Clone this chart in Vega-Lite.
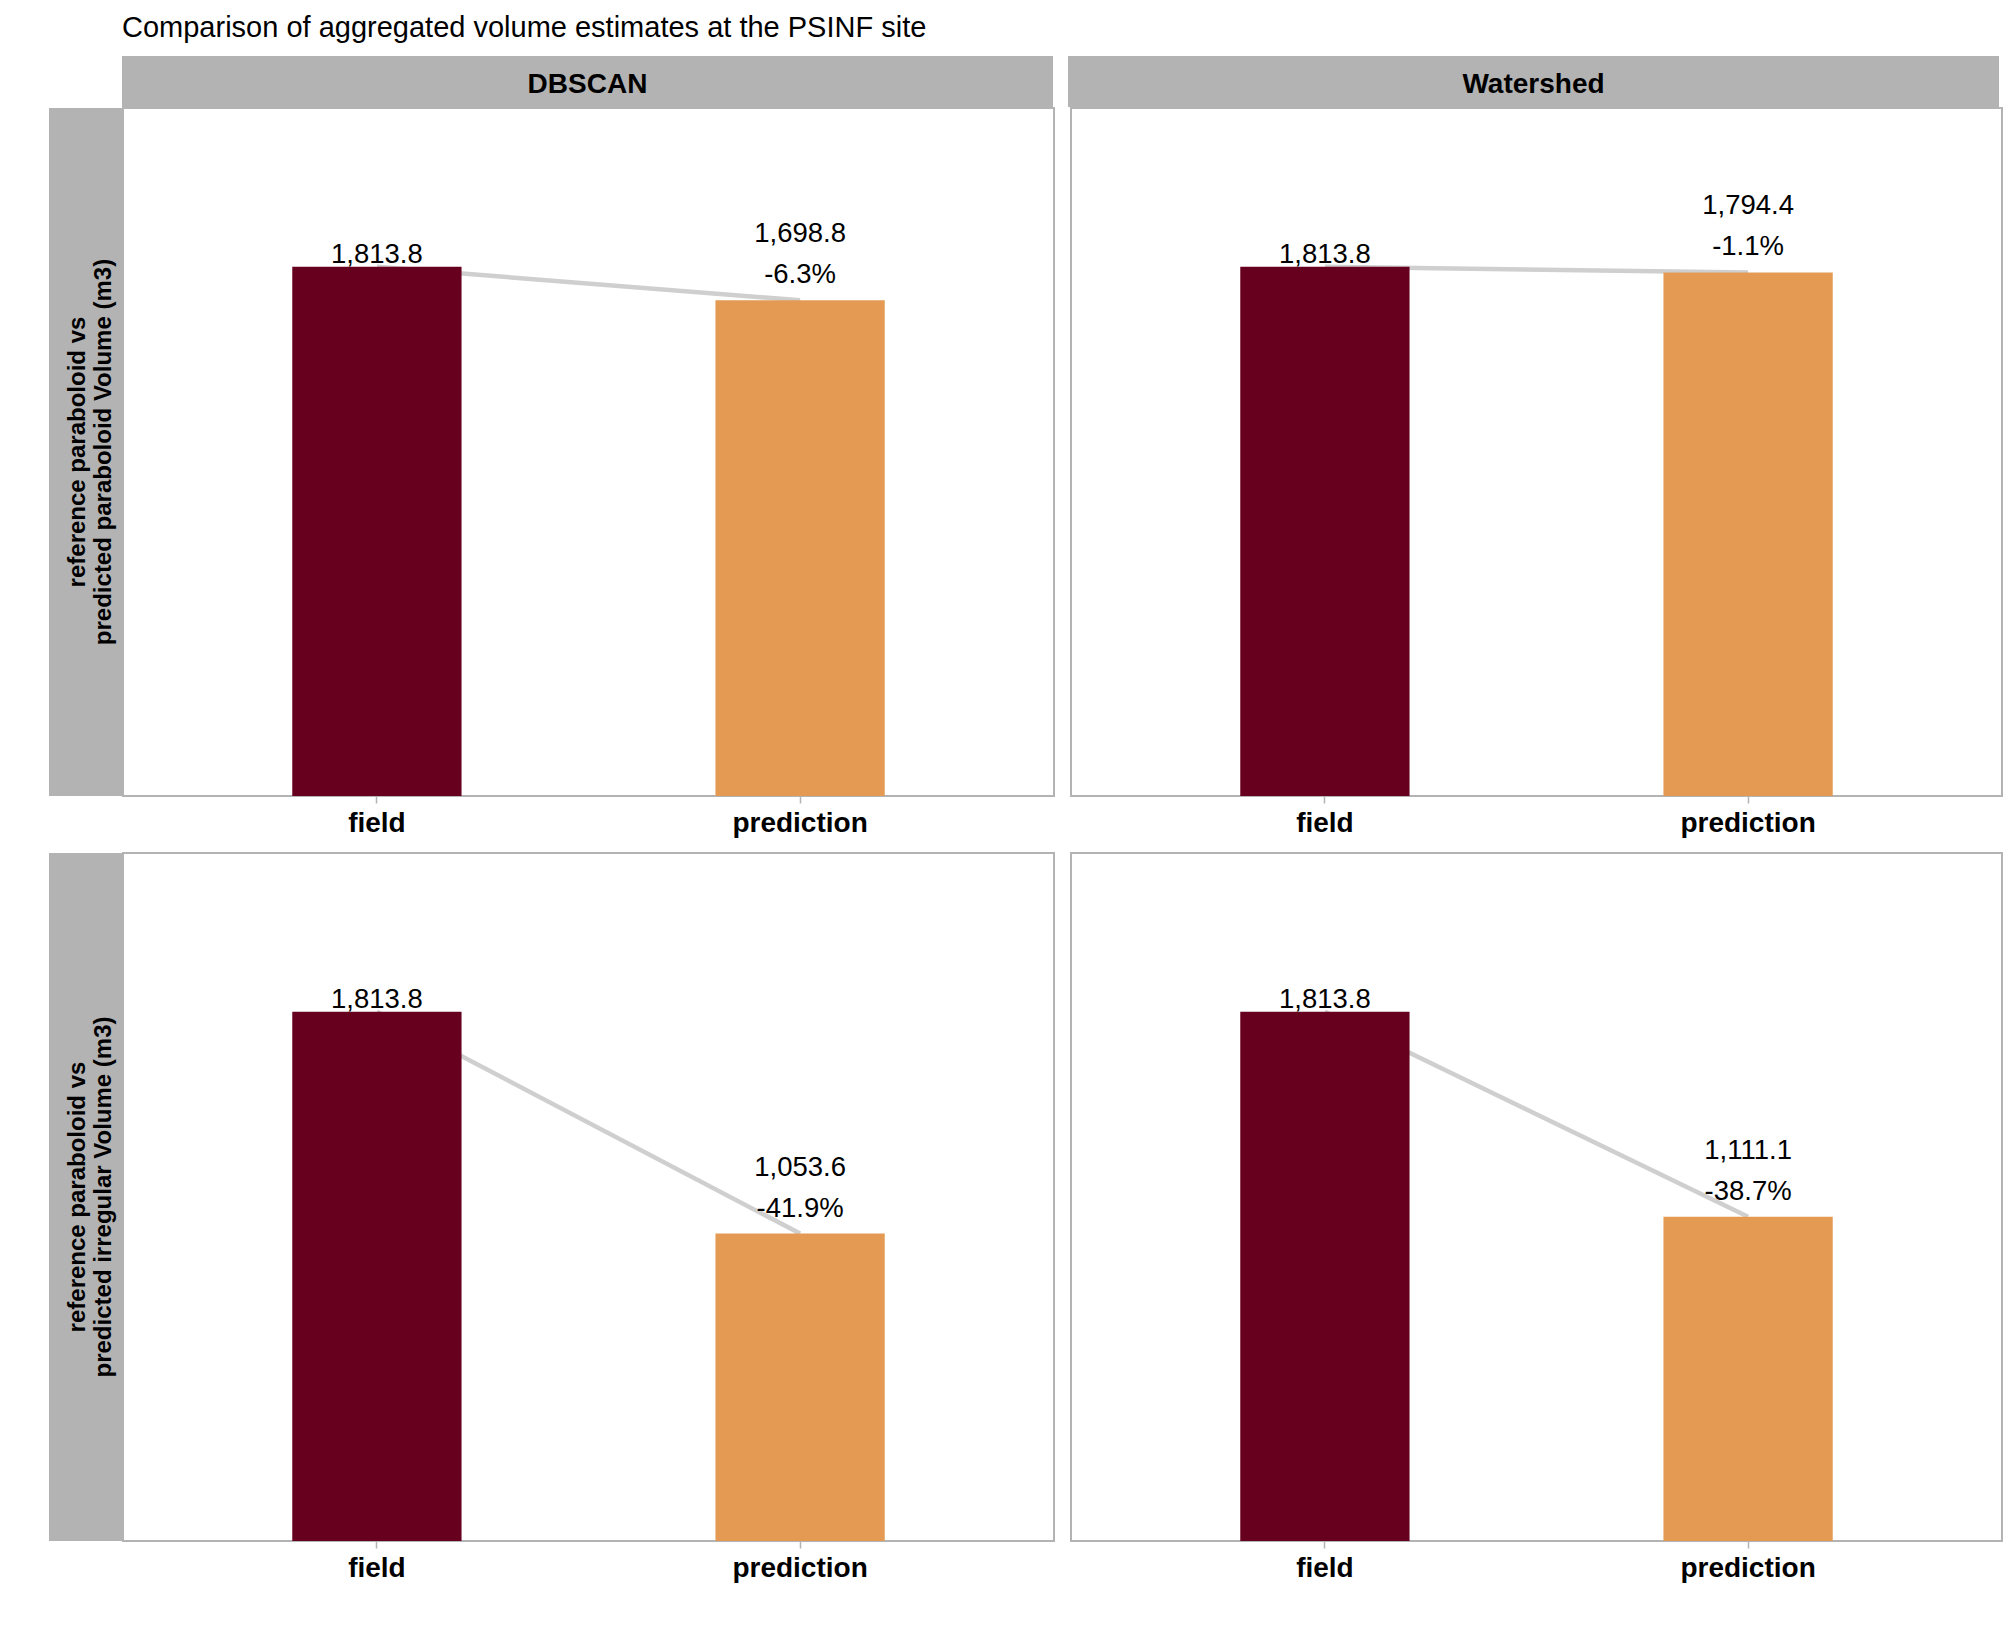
{
  "$schema": "https://vega.github.io/schema/vega-lite/v6.json",
  "padding": {"left": 49, "top": 14, "right": 10, "bottom": 10},
  "background": "white",
  "title": {
    "text": "Comparison of aggregated volume estimates at the PSINF site",
    "anchor": "start",
    "dx": 73,
    "fontSize": 29,
    "fontWeight": "normal",
    "font": "Liberation Sans",
    "color": "black",
    "offset": 13
  },
  "config": {
    "font": "Liberation Sans",
    "locale": {"number": {"decimal": ".", "thousands": ",", "grouping": [3], "currency": ["$", ""], "minus": "-"}},
    "text": {"color": "black"},
    "axis": {"labelColor": "black"}
  },
  "datasets": {
    "bars": [
      {"algorithm": "DBSCAN", "comparison": "paraboloid", "group": "field", "volume": 1813.8, "pct": null},
      {"algorithm": "DBSCAN", "comparison": "paraboloid", "group": "prediction", "volume": 1698.8, "pct": -0.063},
      {"algorithm": "Watershed", "comparison": "paraboloid", "group": "field", "volume": 1813.8, "pct": null},
      {"algorithm": "Watershed", "comparison": "paraboloid", "group": "prediction", "volume": 1794.4, "pct": -0.011},
      {"algorithm": "DBSCAN", "comparison": "irregular", "group": "field", "volume": 1813.8, "pct": null},
      {"algorithm": "DBSCAN", "comparison": "irregular", "group": "prediction", "volume": 1053.6, "pct": -0.419},
      {"algorithm": "Watershed", "comparison": "irregular", "group": "field", "volume": 1813.8, "pct": null},
      {"algorithm": "Watershed", "comparison": "irregular", "group": "prediction", "volume": 1111.1, "pct": -0.387}
    ],
    "strips": [
      {"algorithm": "DBSCAN"},
      {"algorithm": "Watershed"}
    ],
    "rowstrips": [
      {"comparison": "paraboloid", "label": "reference paraboloid vs\npredicted paraboloid Volume (m3)"},
      {"comparison": "irregular", "label": "reference paraboloid vs\npredicted irregular Volume (m3)"}
    ],
    "blank": [
      {"label": ""}
    ]
  },
  "spacing": 0,
  "vconcat": [
    {
      "spacing": 15,
      "hconcat": [
        {
          "spacing": 0,
          "hconcat": [
            {
              "width": 73, "height": 51,
              "data": {"name": "blank"},
              "view": {"stroke": null},
              "mark": {"type": "text"},
              "encoding": {"text": {"field": "label", "type": "nominal"}}
            },
            {
              "width": 931, "height": 51,
              "data": {"name": "strips"},
              "transform": [{"filter": "datum.algorithm === 'DBSCAN'"}],
              "view": {"fill": "#b3b3b3", "stroke": null},
              "mark": {"type": "text", "fontSize": 28, "fontWeight": "bold", "color": "black", "dy": 3},
              "encoding": {"text": {"field": "algorithm", "type": "nominal"}}
            }
          ]
        },
        {
          "width": 931, "height": 51,
          "data": {"name": "strips"},
          "transform": [{"filter": "datum.algorithm === 'Watershed'"}],
          "view": {"fill": "#b3b3b3", "stroke": null},
          "mark": {"type": "text", "fontSize": 28, "fontWeight": "bold", "color": "black", "dy": 3},
          "encoding": {"text": {"field": "algorithm", "type": "nominal"}}
        }
      ]
    },
    {
      "spacing": 14,
      "vconcat": [
        {
          "spacing": 15,
          "hconcat": [
            {
              "spacing": 0,
              "hconcat": [
                {
                  "width": 73, "height": 688,
                  "data": {"name": "rowstrips"},
                  "transform": [{"filter": "datum.comparison === 'paraboloid'"}],
                  "view": {"fill": "#b3b3b3", "stroke": null},
                  "mark": {"type": "text", "angle": 270, "fontSize": 24, "fontWeight": "bold", "lineBreak": "\n", "lineHeight": 26, "color": "black", "dy": -8},
                  "encoding": {"text": {"field": "label", "type": "nominal"}}
                },
                {
                  "width": 931, "height": 688,
                  "data": {"name": "bars"},
                  "transform": [{"filter": "datum.algorithm === 'DBSCAN' && datum.comparison === 'paraboloid'"}],
                  "view": {"stroke": "#b3b3b3", "strokeWidth": 2},
                  "encoding": {
                    "x": {"field": "group", "type": "nominal", "title": null,
                      "scale": {"paddingInner": 0.6, "paddingOuter": 0.4},
                      "axis": {"labelAngle": 0, "labelFontSize": 28, "labelFontWeight": "bold", "labelColor": "black", "labelPadding": 6, "tickSize": 7, "tickColor": "#b3b3b3", "tickWidth": 1.5, "domain": false, "grid": false}},
                    "y": {"field": "volume", "type": "quantitative", "scale": {"domain": [0, 2358], "nice": false}, "axis": null}
                  },
                  "layer": [
                    {"mark": {"type": "line", "color": "#cfcfcf", "strokeWidth": 4.5}, "encoding": {}},
                    {"mark": {"type": "bar"}, "encoding": {"color": {"field": "group", "type": "nominal", "scale": {"domain": ["field", "prediction"], "range": ["#67001f", "#e49a52"]}, "legend": null}}},
                    {"transform": [{"filter": "datum.group === 'field'"}], "mark": {"type": "text", "baseline": "alphabetic", "dy": -4, "fontSize": 27.5}, "encoding": {"text": {"field": "volume", "type": "quantitative", "format": ",.1f"}}},
                    {"transform": [{"filter": "datum.group === 'prediction'"}], "mark": {"type": "text", "baseline": "alphabetic", "dy": -58, "fontSize": 27.5}, "encoding": {"text": {"field": "volume", "type": "quantitative", "format": ",.1f"}}},
                    {"transform": [{"filter": "datum.group === 'prediction'"}], "mark": {"type": "text", "baseline": "alphabetic", "dy": -17, "fontSize": 27.5}, "encoding": {"text": {"field": "pct", "type": "quantitative", "format": ".1%"}}}
                  ]
                }
              ]
            },
            {
              "width": 931, "height": 688,
              "data": {"name": "bars"},
              "transform": [{"filter": "datum.algorithm === 'Watershed' && datum.comparison === 'paraboloid'"}],
              "view": {"stroke": "#b3b3b3", "strokeWidth": 2},
              "encoding": {
                "x": {"field": "group", "type": "nominal", "title": null,
                  "scale": {"paddingInner": 0.6, "paddingOuter": 0.4},
                  "axis": {"labelAngle": 0, "labelFontSize": 28, "labelFontWeight": "bold", "labelColor": "black", "labelPadding": 6, "tickSize": 7, "tickColor": "#b3b3b3", "tickWidth": 1.5, "domain": false, "grid": false}},
                "y": {"field": "volume", "type": "quantitative", "scale": {"domain": [0, 2358], "nice": false}, "axis": null}
              },
              "layer": [
                {"mark": {"type": "line", "color": "#cfcfcf", "strokeWidth": 4.5}, "encoding": {}},
                {"mark": {"type": "bar"}, "encoding": {"color": {"field": "group", "type": "nominal", "scale": {"domain": ["field", "prediction"], "range": ["#67001f", "#e49a52"]}, "legend": null}}},
                {"transform": [{"filter": "datum.group === 'field'"}], "mark": {"type": "text", "baseline": "alphabetic", "dy": -4, "fontSize": 27.5}, "encoding": {"text": {"field": "volume", "type": "quantitative", "format": ",.1f"}}},
                {"transform": [{"filter": "datum.group === 'prediction'"}], "mark": {"type": "text", "baseline": "alphabetic", "dy": -58, "fontSize": 27.5}, "encoding": {"text": {"field": "volume", "type": "quantitative", "format": ",.1f"}}},
                {"transform": [{"filter": "datum.group === 'prediction'"}], "mark": {"type": "text", "baseline": "alphabetic", "dy": -17, "fontSize": 27.5}, "encoding": {"text": {"field": "pct", "type": "quantitative", "format": ".1%"}}}
              ]
            }
          ]
        },
        {
          "spacing": 15,
          "hconcat": [
            {
              "spacing": 0,
              "hconcat": [
                {
                  "width": 73, "height": 688,
                  "data": {"name": "rowstrips"},
                  "transform": [{"filter": "datum.comparison === 'irregular'"}],
                  "view": {"fill": "#b3b3b3", "stroke": null},
                  "mark": {"type": "text", "angle": 270, "fontSize": 24, "fontWeight": "bold", "lineBreak": "\n", "lineHeight": 26, "color": "black", "dy": -8},
                  "encoding": {"text": {"field": "label", "type": "nominal"}}
                },
                {
                  "width": 931, "height": 688,
                  "data": {"name": "bars"},
                  "transform": [{"filter": "datum.algorithm === 'DBSCAN' && datum.comparison === 'irregular'"}],
                  "view": {"stroke": "#b3b3b3", "strokeWidth": 2},
                  "encoding": {
                    "x": {"field": "group", "type": "nominal", "title": null,
                      "scale": {"paddingInner": 0.6, "paddingOuter": 0.4},
                      "axis": {"labelAngle": 0, "labelFontSize": 28, "labelFontWeight": "bold", "labelColor": "black", "labelPadding": 6, "tickSize": 7, "tickColor": "#b3b3b3", "tickWidth": 1.5, "domain": false, "grid": false}},
                    "y": {"field": "volume", "type": "quantitative", "scale": {"domain": [0, 2358], "nice": false}, "axis": null}
                  },
                  "layer": [
                    {"mark": {"type": "line", "color": "#cfcfcf", "strokeWidth": 4.5}, "encoding": {}},
                    {"mark": {"type": "bar"}, "encoding": {"color": {"field": "group", "type": "nominal", "scale": {"domain": ["field", "prediction"], "range": ["#67001f", "#e49a52"]}, "legend": null}}},
                    {"transform": [{"filter": "datum.group === 'field'"}], "mark": {"type": "text", "baseline": "alphabetic", "dy": -4, "fontSize": 27.5}, "encoding": {"text": {"field": "volume", "type": "quantitative", "format": ",.1f"}}},
                    {"transform": [{"filter": "datum.group === 'prediction'"}], "mark": {"type": "text", "baseline": "alphabetic", "dy": -58, "fontSize": 27.5}, "encoding": {"text": {"field": "volume", "type": "quantitative", "format": ",.1f"}}},
                    {"transform": [{"filter": "datum.group === 'prediction'"}], "mark": {"type": "text", "baseline": "alphabetic", "dy": -17, "fontSize": 27.5}, "encoding": {"text": {"field": "pct", "type": "quantitative", "format": ".1%"}}}
                  ]
                }
              ]
            },
            {
              "width": 931, "height": 688,
              "data": {"name": "bars"},
              "transform": [{"filter": "datum.algorithm === 'Watershed' && datum.comparison === 'irregular'"}],
              "view": {"stroke": "#b3b3b3", "strokeWidth": 2},
              "encoding": {
                "x": {"field": "group", "type": "nominal", "title": null,
                  "scale": {"paddingInner": 0.6, "paddingOuter": 0.4},
                  "axis": {"labelAngle": 0, "labelFontSize": 28, "labelFontWeight": "bold", "labelColor": "black", "labelPadding": 6, "tickSize": 7, "tickColor": "#b3b3b3", "tickWidth": 1.5, "domain": false, "grid": false}},
                "y": {"field": "volume", "type": "quantitative", "scale": {"domain": [0, 2358], "nice": false}, "axis": null}
              },
              "layer": [
                {"mark": {"type": "line", "color": "#cfcfcf", "strokeWidth": 4.5}, "encoding": {}},
                {"mark": {"type": "bar"}, "encoding": {"color": {"field": "group", "type": "nominal", "scale": {"domain": ["field", "prediction"], "range": ["#67001f", "#e49a52"]}, "legend": null}}},
                {"transform": [{"filter": "datum.group === 'field'"}], "mark": {"type": "text", "baseline": "alphabetic", "dy": -4, "fontSize": 27.5}, "encoding": {"text": {"field": "volume", "type": "quantitative", "format": ",.1f"}}},
                {"transform": [{"filter": "datum.group === 'prediction'"}], "mark": {"type": "text", "baseline": "alphabetic", "dy": -58, "fontSize": 27.5}, "encoding": {"text": {"field": "volume", "type": "quantitative", "format": ",.1f"}}},
                {"transform": [{"filter": "datum.group === 'prediction'"}], "mark": {"type": "text", "baseline": "alphabetic", "dy": -17, "fontSize": 27.5}, "encoding": {"text": {"field": "pct", "type": "quantitative", "format": ".1%"}}}
              ]
            }
          ]
        }
      ]
    }
  ]
}
